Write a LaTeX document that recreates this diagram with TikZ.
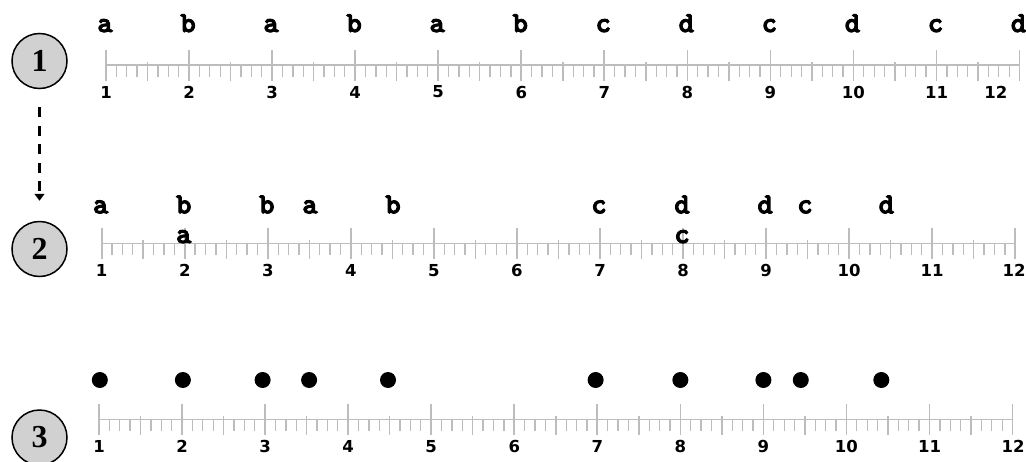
\documentclass[tikz,border=0pt]{standalone}
\usepackage{fontspec}
\setmainfont{Liberation Serif}
\newfontfamily\numfont{DejaVu Sans}
\newfontfamily\lettfont{lmmonolt10-bold.otf}[FakeBold=3.5]
\usetikzlibrary{arrows.meta}
\definecolor{rulergray}{gray}{0.74}
\definecolor{circfill}{gray}{0.82}
\newcommand{\drawruler}[3]{%
  \draw[rulergray, line width=1.6pt] (#1,#2) -- ({#1+11*83.05},#2);
  \foreach \k in {1,...,87}{%
    \pgfmathsetmacro\xx{#1+\k*83.05/8}%
    \pgfmathtruncatemacro\rr{mod(\k,8)}%
    \ifnum\rr=0\relax
    \else\ifnum\rr=4\relax
      \draw[rulergray, line width=1.5pt] (\xx,#2-3) -- (\xx,#2+16);
    \else
      \draw[rulergray, line width=1.3pt] (\xx,#2) -- (\xx,#2+12);
    \fi\fi
  }%
  \foreach \n in {1,...,12}{%
    \pgfmathsetmacro\xx{#1+(\n-1)*83.05}%
    \draw[rulergray, line width=1.7pt] (\xx,#2-15) -- (\xx,#2+16);
  }%
  \foreach \n in {1,...,11}{%
    \pgfmathsetmacro\xx{#1+(\n-1)*83.05}%
    \node[numlab] at (\xx,#2+27) {\n};
  }%
  \node[numlab] at (#3,#2+27) {12};
}
\begin{document}
\begin{tikzpicture}[x=1pt,y=-1pt,
  numlab/.style={font=\numfont\bfseries\fontsize{16.5}{16.5}\selectfont, inner sep=0pt},
  lt/.style={font=\lettfont\fontsize{29}{29}\selectfont, anchor=base, inner sep=0pt},
  circ/.style={circle, draw, line width=1.5pt, fill=circfill, minimum size=55pt, inner sep=0pt,
    font=\bfseries\fontsize{32}{32}\selectfont},
  dot/.style={circle, fill=black, minimum size=16pt, inner sep=0pt},
  arr/.style={line width=2.4pt, dash pattern=on 10pt off 8.5pt, -{Triangle[length=7pt,width=10pt]},
    shorten <=18pt, shorten >=20pt}]
\useasboundingbox (0,0) rectangle (1026,461);
\fill[white] (0,0) rectangle (1026,461);
% rulers
\drawruler{106}{65}{995.8}
\drawruler{101.7}{243.3}{1014}
\drawruler{99}{419.3}{1013}
% circles
\node[circ] (c1) at (39.5,61) {1};
\node[circ] (c2) at (39.5,249) {2};
\node[circ] (c3) at (39.5,437.5) {3};
\draw[arr] (c1) -- (c2);
% row 1 letters
\foreach \v/\t [count=\i] in {1/a,2/b,3/a,4/b,5/a,6/b,7/c,8/d,9/c,10/d,11/c,12/d}{
  \node[lt] (r1l\i) at ({106+(\v-1)*83.05-1},32) {\t};
}
% row 2 letters
\foreach \v/\t [count=\i] in {1/a,2/b,3/b,3.52/a,4.52/b,7/c,8/d,9/d,9.48/c,10.46/d}{
  \node[lt] (r2l\i) at ({101.7+(\v-1)*83.05-1},213.3) {\t};
}
\node[lt] (r2m1) at ({101.7+83.05-1},243) {a};
\node[lt] (r2m2) at ({101.7+7*83.05-1},243) {c};
% row 3 dots
\foreach \v [count=\i] in {1.01,2.01,2.97,3.53,4.48,6.98,8,9,9.45,10.42}{
  \node[dot] (d\i) at ({99+(\v-1)*83.05},380) {};
}
\end{tikzpicture}
\end{document}
